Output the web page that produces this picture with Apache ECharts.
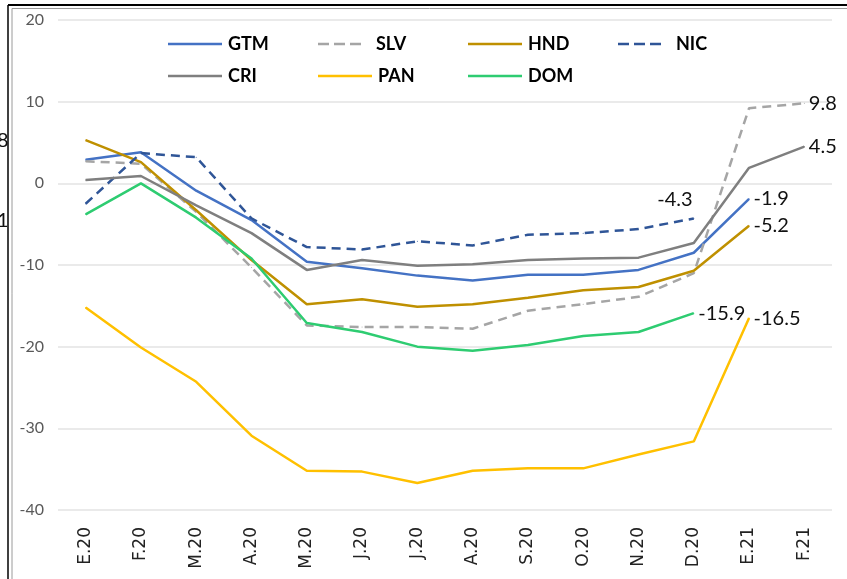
<!DOCTYPE html>
<html>
<head>
<meta charset="utf-8">
<script src="https://cdn.jsdelivr.net/npm/echarts@6/dist/echarts.min.js"></script>
<style>
  html, body { margin: 0; padding: 0; background: #fff; }
  #chart { width: 847px; height: 579px; }
</style>
</head>
<body>
<div id="chart"></div>
<script>
// 类别（月份）
var months = ['E.20', 'F.20', 'M.20', 'A.20', 'M.20', 'J.20', 'J.20', 'A.20', 'S.20', 'O.20', 'N.20', 'D.20', 'E.21', 'F.21'];

// 各国数值
var gtm = [2.9, 3.8, -0.9, -4.5, -9.6, -10.4, -11.3, -11.9, -11.2, -11.2, -10.6, -8.5, -1.9, null];
var slv = [2.7, 2.4, -3.5, -10.3, -17.4, -17.6, -17.6, -17.8, -15.6, -14.8, -13.9, -11.0, 9.2, 9.8];
var hnd = [5.3, 2.6, -3.3, -9.4, -14.8, -14.2, -15.1, -14.8, -14.0, -13.1, -12.7, -10.7, -5.2, null];
var nic = [-2.5, 3.7, 3.2, -4.3, -7.8, -8.1, -7.1, -7.6, -6.3, -6.1, -5.6, -4.3, null, null];
var cri = [0.4, 0.9, -2.7, -6.1, -10.6, -9.4, -10.1, -9.9, -9.4, -9.2, -9.1, -7.3, 1.9, 4.5];
var pan = [-15.2, -20.1, -24.3, -30.9, -35.2, -35.3, -36.7, -35.2, -34.9, -34.9, -33.2, -31.6, -16.5, null];
var dom = [-3.8, 0.0, -4.2, -9.2, -17.1, -18.2, -20.0, -20.5, -19.8, -18.7, -18.2, -15.9, null, null];

var yTicks = [-40, -30, -20, -10, 0, 10, 20];

// 图例图标：实线与虚线
var solidIcon = 'path://M0,0H54V1H0Z';
var dashIcon = 'path://M0,0H11V1H0Z M16,0H27V1H16Z M32,0H43V1H32Z';

// 系列样式
var seriesDefs = [
  { name: 'GTM', data: gtm, color: '#4472C4', dash: 'solid', labelAt: 12, pos: 'right', off: [0, -4] },
  { name: 'SLV', data: slv, color: '#A5A5A5', dash: [9, 6], labelAt: 13, pos: 'right', off: [17, 0] },
  { name: 'HND', data: hnd, color: '#BF9000', dash: 'solid', labelAt: 12, pos: 'right', off: [2, 0] },
  { name: 'NIC', data: nic, color: '#2F5597', dash: [9, 6], labelAt: 11, pos: [-36, -28], off: [0, 0] },
  { name: 'CRI', data: cri, color: '#7F7F7F', dash: 'solid', labelAt: 13, pos: 'right', off: [14, 1] },
  { name: 'PAN', data: pan, color: '#FFC000', dash: 'solid', labelAt: 12, pos: 'right', off: [-1, 10] },
  { name: 'DOM', data: dom, color: '#2ECC71', dash: 'solid', labelAt: 11, pos: 'right', off: [1, -6] }
];

// 图例位置（两行四列）
var legendPos = [[168, 35], [318, 35], [468, 35], [618, 35], [168, 67], [318, 67], [468, 67]];

var series = seriesDefs.map(function (s) {
  return {
    name: s.name,
    type: 'line',
    symbol: 'circle',
    symbolSize: 1,
    showSymbol: true,
    showAllSymbol: true,
    lineStyle: { color: s.color, width: 2.5, type: s.dash },
    itemStyle: { color: s.color },
    emphasis: { disabled: true },
    labelLayout: { hideOverlap: false },
    data: s.data.map(function (v, i) {
      if (i === s.labelAt) {
        return {
          value: v,
          label: {
            show: true,
            position: s.pos,
            distance: 4,
            offset: s.off,
            formatter: function (p) { return p.value.toFixed(1); },
            color: '#111',
            fontFamily: 'Lato',
            fontSize: 20
          }
        };
      }
      return v;
    })
  };
});

var legends = seriesDefs.map(function (s, i) {
  var dashed = s.dash !== 'solid';
  return {
    data: [s.name],
    left: legendPos[i][0],
    top: legendPos[i][1],
    icon: dashed ? dashIcon : solidIcon,
    symbolKeepAspect: false,
    itemWidth: dashed ? 43 : 54,
    itemHeight: 2.5,
    itemGap: 0,
    padding: 0,
    selectedMode: false,
    itemStyle: { color: s.color, opacity: 1 },
    textStyle: {
      color: '#000', fontFamily: 'Lato', fontWeight: 'bold', fontSize: 18,
      padding: [0, 0, 0, dashed ? 10 : 1]
    }
  };
});

var chart = echarts.init(document.getElementById('chart'), null, { renderer: 'canvas' });
chart.setOption({
  backgroundColor: '#fff',
  animation: false,
  legend: legends,
  grid: { left: 58, right: 15, top: 20, bottom: 69, containLabel: false },
  xAxis: {
    type: 'category',
    data: months,
    boundaryGap: true,
    axisLine: { show: false },
    axisTick: { show: false },
    axisLabel: {
      rotate: 90,
      interval: 0,
      margin: 17,
      color: '#222',
      fontFamily: 'DejaVu Sans',
      fontSize: 17
    }
  },
  yAxis: {
    type: 'value',
    min: yTicks[0],
    max: yTicks[yTicks.length - 1],
    interval: 10,
    axisLine: { show: false },
    axisTick: { show: false },
    axisLabel: { color: '#595959', fontFamily: 'Lato', fontSize: 16, margin: 14 },
    splitLine: { lineStyle: { color: '#E3E3E3', width: 1.5 } }
  },
  series: series,
  graphic: [
    // 外框
    { type: 'line', shape: { x1: 8, y1: 5, x2: 847, y2: 5 }, style: { stroke: '#000', lineWidth: 2 } },
    { type: 'line', shape: { x1: 12, y1: 8.5, x2: 847, y2: 8.5 }, style: { stroke: '#9A9A9A', lineWidth: 1 } },
    { type: 'line', shape: { x1: 8, y1: 5, x2: 8, y2: 579 }, style: { stroke: '#000', lineWidth: 1.5 } },
    { type: 'line', shape: { x1: 12, y1: 8.5, x2: 12, y2: 579 }, style: { stroke: '#9A9A9A', lineWidth: 1 } },
    // 左侧残留文字
    { type: 'text', left: -3, top: 131, style: { text: '8', fontFamily: 'Lato', fontSize: 20, fill: '#111' } },
    { type: 'text', left: -3, top: 211, style: { text: '1', fontFamily: 'Lato', fontSize: 20, fill: '#111' } }
  ]
});
</script>
</body>
</html>
